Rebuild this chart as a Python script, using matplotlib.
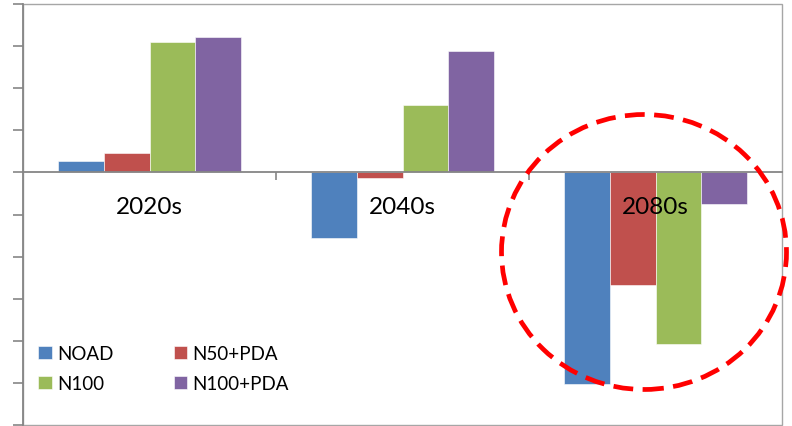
import matplotlib
matplotlib.use("Agg")
import matplotlib.pyplot as plt
import matplotlib.transforms as mtransforms
from matplotlib.patches import Ellipse, Rectangle
import numpy as np

plt.rcParams['font.family'] = ['Lato', 'DejaVu Sans']

categories = ["2020s", "2040s", "2080s"]
series_names = ["NOAD", "N50+PDA", "N100", "N100+PDA"]
noad = [0.28, -1.55, -5.03]
n50_pda = [0.47, -0.14, -2.68]
n100 = [3.10, 1.61, -4.07]
n100_pda = [3.22, 2.89, -0.74]
colors = ["#4F81BD", "#C0504D", "#9BBB59", "#8064A2"]

W, H = 792, 427
fig = plt.figure(figsize=(W / 100, H / 100), dpi=100)
ax = fig.add_axes([23 / W, 1 - 426 / H, (782 - 23) / W, (426 - 5) / H])

x = np.arange(len(categories)) + 0.5
bw = 0.18
bars = []
for i, (name, vals) in enumerate(zip(series_names, [noad, n50_pda, n100, n100_pda])):
    b = ax.bar(x + (i - 1.5) * bw, vals, width=bw, color=colors[i], label=name,
               edgecolor='white', linewidth=0.4, zorder=2)
    bars.append(b)

ax.set_xlim(0, 3)
ax.set_ylim(-6, 4)
ax.set_yticks(np.arange(-6, 5, 1))
ax.set_yticklabels([])
ax.set_xticks([1, 2])
ax.set_xticklabels([])

gray = '#868686'
for s in ['top', 'right']:
    ax.spines[s].set_visible(False)
ax.spines['left'].set_color(gray)
ax.spines['left'].set_linewidth(1.3)
ax.spines['bottom'].set_position(('data', 0))
ax.spines['bottom'].set_color(gray)
ax.spines['bottom'].set_linewidth(1.3)
ax.spines['bottom'].set_zorder(3)
ax.tick_params(axis='y', direction='out', length=7, width=1.2, color=gray)
ax.tick_params(axis='x', direction='out', length=6, width=1.2, color=gray)

# outer frame
ax.add_patch(Rectangle((0, 0), 1, 1, transform=ax.transAxes, fill=False,
                       edgecolor='#A6A6A6', linewidth=1.0, clip_on=False, zorder=0))

offset = mtransforms.ScaledTranslation(0, -34 / 100, fig.dpi_scale_trans)
for xi, c in zip(x, categories):
    ax.text(xi, 0, c, transform=ax.transData + offset, ha='center', va='center',
            fontsize=17.5, color='black', zorder=5)

order = [0, 2, 1, 3]
leg = ax.legend([bars[i] for i in order], [series_names[i] for i in order],
                loc='upper left', bbox_to_anchor=(38 / W, 1 - 346 / H),
                bbox_transform=fig.transFigure, ncol=2, frameon=False,
                fontsize=13.5, handlelength=0.72, handleheight=0.72,
                handletextpad=0.3, columnspacing=3.2, labelspacing=0.68,
                borderpad=0, borderaxespad=0)

fig.add_artist(Ellipse((644 / W, 1 - 253 / H), 285 / W, 275 / H,
                       transform=fig.transFigure, fill=False, edgecolor='#FF0000',
                       linewidth=3.4, linestyle=(0, (4.2, 2.0)), zorder=10))

fig.savefig("out.png", dpi=100)
